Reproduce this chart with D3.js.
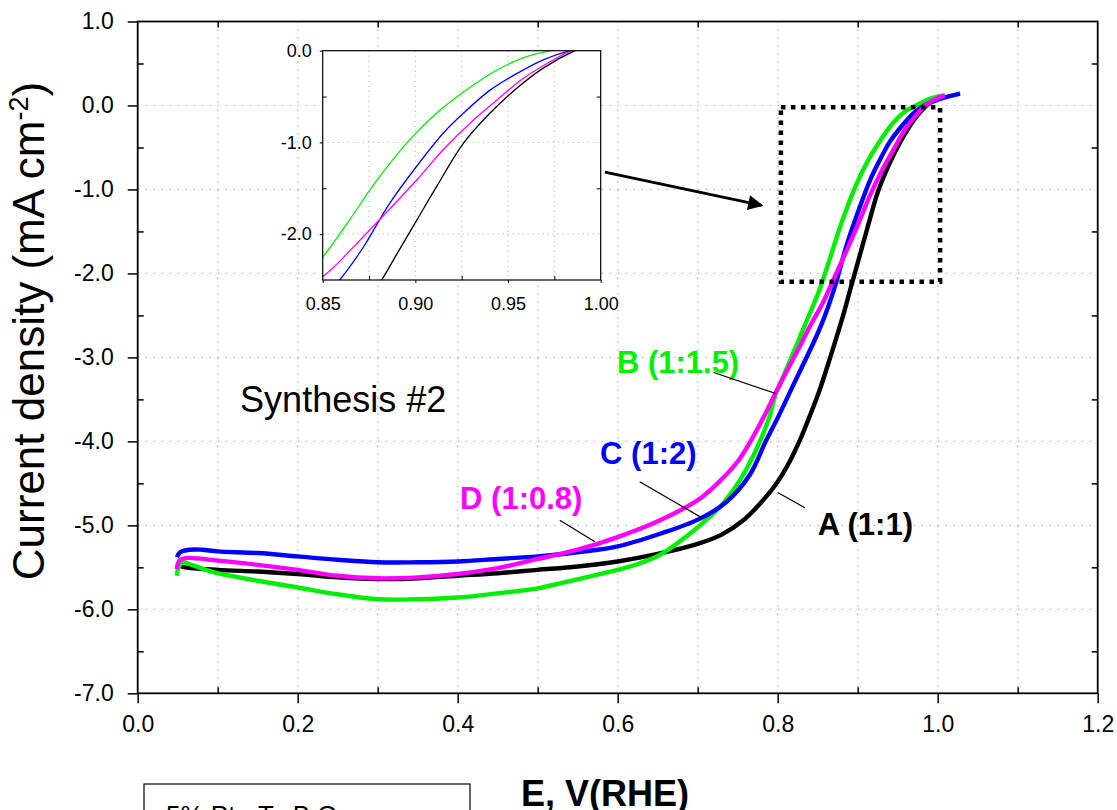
<!DOCTYPE html>
<html>
<head>
<meta charset="utf-8"/>
<title>ORR polarization curves</title>
<style>
body { margin: 0; background: #fff; }
svg { display: block; font-family: "Liberation Sans", Arial, sans-serif; }
.grid line { stroke: #b4b4b4; stroke-width: 1.2; stroke-dasharray: 1.5,6.5; }
.axis path { display: none; }
.axis line { stroke: #000; stroke-width: 1.5; }
.axis text { font-size: 23px; fill: #000; }
.inset .axis text { font-size: 18px; }
.inset .axis line { stroke-width: 1; }
</style>
</head>
<body>
<svg width="1117" height="810"></svg>
<script src="https://d3js.org/d3.v7.min.js"></script>
<script>

// E (V vs RHE), current density (mA cm-2)
var seriesA = [[0.049,-5.45],[0.055,-5.49],[0.1,-5.53],[0.15,-5.55],[0.2,-5.58],[0.25,-5.62],[0.3,-5.64],[0.35,-5.63],
  [0.4,-5.60],[0.45,-5.57],[0.5,-5.53],[0.55,-5.49],[0.6,-5.43],[0.65,-5.34],[0.7,-5.22],[0.73,-5.11],[0.757,-4.94],
  [0.78,-4.72],[0.8,-4.48],[0.815,-4.24],[0.828,-3.98],[0.84,-3.70],[0.852,-3.40],[0.865,-3.02],[0.8818,-2.5],
  [0.8899,-2.22],[0.9007,-1.85],[0.9115,-1.48],[0.9259,-1.01],[0.9403,-0.68],[0.9547,-0.41],[0.969,-0.19],[0.9861,0.0],
  [0.997,0.08],[1.005,0.1]];
var seriesB = [[0.049,-5.60],[0.051,-5.50],[0.056,-5.44],[0.07,-5.48],[0.1,-5.57],[0.15,-5.66],[0.2,-5.74],[0.25,-5.82],
  [0.3,-5.88],[0.35,-5.88],[0.4,-5.86],[0.45,-5.81],[0.5,-5.75],[0.528,-5.69],[0.56,-5.62],[0.6,-5.53],[0.625,-5.46],
  [0.653,-5.35],[0.694,-5.07],[0.728,-4.78],[0.753,-4.46],[0.768,-4.2],[0.78,-3.95],[0.79,-3.70],[0.797,-3.45],[0.81,-3.16],
  [0.825,-2.82],[0.84,-2.48],[0.852,-2.2],[0.865,-1.83],[0.879,-1.42],[0.897,-0.97],[0.9115,-0.68],
  [0.926,-0.45],[0.944,-0.21],[0.96,-0.065],[0.973,0.0],[0.99,0.08],[1.009,0.12]];
var seriesC = [[0.049,-5.38],[0.053,-5.32],[0.065,-5.29],[0.08,-5.29],[0.1,-5.31],[0.15,-5.33],[0.2,-5.37],[0.25,-5.41],
  [0.3,-5.44],[0.35,-5.44],[0.4,-5.43],[0.45,-5.40],[0.5,-5.37],[0.55,-5.32],[0.6,-5.25],[0.653,-5.10],[0.703,-4.92],
  [0.736,-4.72],[0.765,-4.40],[0.785,-4.0],[0.8,-3.72],[0.815,-3.42],[0.83,-3.12],[0.845,-2.82],[0.855,-2.6],
  [0.863,-2.40],[0.872,-2.14],[0.8863,-1.66],[0.9007,-1.26],[0.915,-0.90],[0.926,-0.68],[0.9403,-0.43],[0.9547,-0.25],
  [0.969,-0.10],[0.9834,0.0],[1.0,0.07],[1.015,0.11],[1.028,0.14]];
var seriesD = [[0.049,-5.52],[0.052,-5.42],[0.06,-5.39],[0.1,-5.42],[0.15,-5.47],[0.2,-5.53],[0.25,-5.60],[0.3,-5.63],
  [0.35,-5.62],[0.4,-5.58],[0.45,-5.51],[0.5,-5.40],[0.55,-5.29],[0.6,-5.14],[0.653,-4.94],[0.703,-4.68],[0.728,-4.47],
  [0.75,-4.24],[0.766,-4.0],[0.782,-3.72],[0.797,-3.43],[0.812,-3.15],[0.827,-2.88],[0.842,-2.6],[0.8549,-2.38],[0.8647,-2.18],
  [0.8827,-1.80],[0.9007,-1.41],[0.915,-1.08],[0.9295,-0.79],[0.9439,-0.54],[0.9583,-0.30],[0.9727,-0.12],
  [0.9843,0.0],[0.996,0.07],[1.009,0.12]];

var seriesNames = ["A (1:1)", "B (1:1.5)", "C (1:2)", "D (1:0.8)"];
var seriesColors = ["#000000", "#00ee00", "#0000ff", "#ff00ff"];
var seriesData = [seriesA, seriesB, seriesC, seriesD];
var drawOrder = [0, 1, 2, 3];

var xMajor = [0, 0.2, 0.4, 0.6, 0.8, 1.0, 1.2];
var xMinor = [0.1, 0.3, 0.5, 0.7, 0.9, 1.1];
var yMajor = [1, 0, -1, -2, -3, -4, -5, -6, -7];
var yMinor = [0.5, -0.5, -1.5, -2.5, -3.5, -4.5, -5.5, -6.5];

var insetXMajor = [0.85, 0.90, 0.95, 1.00];
var insetXMinor = [0.875, 0.925, 0.975];
var insetYMajor = [0, -1, -2];
var insetYMinor = [-0.5, -1.5];

// label anchor positions and leader line ends, in data units
var labelPos = [[0.85, -5.12], [0.599, -3.19], [0.578, -4.27], [0.403, -4.81]];
var leaders = [[[0.80, -4.61], [0.834, -4.79]], [[0.72, -3.18], [0.7975, -3.43]],
  [[0.6275, -4.48], [0.707, -4.92]], [[0.5276, -4.94], [0.5716, -5.195]]];
var zoomBox = [0.804, -0.02, 1.003, -2.10];
var arrowEnds = [[0.584, -0.794], [0.78, -1.19]];

var svg = d3.select("svg");
var fmt = function(d) { return d.toFixed(1); };

var x = d3.scaleLinear().domain([0, 1.2]).range([137.7, 1097.7]);
var y = d3.scaleLinear().domain([-7, 1]).range([693.3, 21.5]);

// grid
var grid = svg.append("g").attr("class", "grid");
grid.selectAll(".gx").data(xMajor.concat(xMinor).filter(function(d) { return d > 0 && d < 1.2; }))
  .enter().append("line")
    .attr("x1", function(d) { return x(d); }).attr("x2", function(d) { return x(d); })
    .attr("y1", y(1)).attr("y2", y(-7));
grid.selectAll(".gy").data(yMajor.filter(function(d) { return d > -7 && d < 1; }))
  .enter().append("line")
    .attr("y1", function(d) { return y(d); }).attr("y2", function(d) { return y(d); })
    .attr("x1", x(0)).attr("x2", x(1.2));

// curves
var line = d3.line()
  .x(function(d) { return x(d[0]); })
  .y(function(d) { return y(d[1]); })
  .curve(d3.curveCatmullRom.alpha(0.5));

svg.append("g").selectAll("path").data(drawOrder).enter().append("path")
  .attr("d", function(i) { return line(seriesData[i]); })
  .attr("fill", "none")
  .attr("stroke", function(i) { return seriesColors[i]; })
  .attr("stroke-width", 4.4)
  .attr("stroke-linejoin", "round");

// frame
svg.append("rect")
  .attr("x", x(0)).attr("y", y(1))
  .attr("width", x(1.2) - x(0)).attr("height", y(-7) - y(1))
  .attr("fill", "none").attr("stroke", "#000").attr("stroke-width", 1.8);

// axes
svg.append("g").attr("class", "axis").attr("transform", "translate(0," + y(-7) + ")")
  .call(d3.axisBottom(x).tickValues(xMajor).tickSize(10).tickPadding(12).tickFormat(fmt));
svg.append("g").attr("class", "axis").attr("transform", "translate(0," + y(-7) + ")")
  .call(d3.axisBottom(x).tickValues(xMinor).tickSize(-6).tickFormat(""));
svg.append("g").attr("class", "axis").attr("transform", "translate(" + x(0) + ",0)")
  .call(d3.axisLeft(y).tickValues(yMajor).tickSize(10).tickPadding(14).tickFormat(fmt));
svg.append("g").attr("class", "axis").attr("transform", "translate(" + x(0) + ",0)")
  .call(d3.axisLeft(y).tickValues(yMinor).tickSize(-6).tickFormat(""));
svg.append("g").attr("class", "axis").attr("transform", "translate(" + x(1.2) + ",0)")
  .call(d3.axisRight(y).tickValues(yMinor).tickSize(-6).tickFormat(""));
svg.append("g").attr("class", "axis").attr("transform", "translate(0," + y(1) + ")")
  .call(d3.axisTop(x).tickValues(xMinor).tickSize(-6).tickFormat(""));

// axis titles
var yt = svg.append("text")
  .attr("transform", "translate(44,331) rotate(-90)")
  .attr("text-anchor", "middle")
  .style("font-size", "44px");
yt.append("tspan").text("Current density (mA cm");
yt.append("tspan").attr("dy", -16).style("font-size", "27px").text("-2");
yt.append("tspan").attr("dy", 16).text(")");

svg.append("text")
  .attr("x", 605).attr("y", 806)
  .attr("text-anchor", "middle")
  .style("font-size", "36px").style("font-weight", "bold")
  .text("E, V(RHE)");

// partially visible legend box at the bottom
svg.append("rect").attr("x", 144).attr("y", 784).attr("width", 326).attr("height", 60)
  .attr("fill", "none").attr("stroke", "#000").attr("stroke-width", 1.2);
svg.append("text").attr("x", 166).attr("y", 824).style("font-size", "26px").text("5% Pt - Ta B O");

// annotations
svg.append("text")
  .attr("x", x(0.128)).attr("y", y(-3.65))
  .style("font-size", "36px")
  .text("Synthesis #2");

svg.append("g").selectAll("text").data(drawOrder).enter().append("text")
  .attr("x", function(i) { return x(labelPos[i][0]); })
  .attr("y", function(i) { return y(labelPos[i][1]); })
  .attr("fill", function(i) { return seriesColors[i]; })
  .style("font-size", "31px").style("font-weight", "bold")
  .text(function(i) { return seriesNames[i]; });

svg.append("g").selectAll("line").data(leaders).enter().append("line")
  .attr("x1", function(d) { return x(d[0][0]); }).attr("y1", function(d) { return y(d[0][1]); })
  .attr("x2", function(d) { return x(d[1][0]); }).attr("y2", function(d) { return y(d[1][1]); })
  .attr("stroke", "#000").attr("stroke-width", 1.2);

svg.append("rect")
  .attr("x", x(zoomBox[0])).attr("y", y(zoomBox[1]))
  .attr("width", x(zoomBox[2]) - x(zoomBox[0])).attr("height", y(zoomBox[3]) - y(zoomBox[1]))
  .attr("fill", "none").attr("stroke", "#000").attr("stroke-width", 4.5)
  .attr("stroke-dasharray", "4.5,5.5");

svg.append("defs").append("marker")
  .attr("id", "head").attr("viewBox", "0 0 10 10").attr("refX", 9).attr("refY", 5)
  .attr("markerWidth", 6).attr("markerHeight", 5).attr("orient", "auto")
  .attr("markerUnits", "strokeWidth")
  .append("path").attr("d", "M0,0L10,5L0,10z").attr("fill", "#000");

svg.append("line")
  .attr("x1", x(arrowEnds[0][0])).attr("y1", y(arrowEnds[0][1]))
  .attr("x2", x(arrowEnds[1][0])).attr("y2", y(arrowEnds[1][1]))
  .attr("stroke", "#000").attr("stroke-width", 3)
  .attr("marker-end", "url(#head)");

// inset
var ix = d3.scaleLinear().domain([0.85, 1.0]).range([322.7, 600.7]);
var iy = d3.scaleLinear().domain([-2.5, 0]).range([280, 50.7]);
var inset = svg.append("g").attr("class", "inset");

inset.append("rect").attr("x", ix(0.85)).attr("y", iy(0))
  .attr("width", ix(1) - ix(0.85)).attr("height", iy(-2.5) - iy(0)).attr("fill", "#fff");

svg.select("defs").append("clipPath").attr("id", "insetClip")
  .append("rect").attr("x", ix(0.85)).attr("y", iy(0))
  .attr("width", ix(1) - ix(0.85)).attr("height", iy(-2.5) - iy(0));

var ig = inset.append("g").attr("class", "grid");
ig.selectAll(".gx").data(insetXMajor.concat(insetXMinor).filter(function(d) { return d > 0.85 && d < 1.0; }))
  .enter().append("line")
    .attr("x1", function(d) { return ix(d); }).attr("x2", function(d) { return ix(d); })
    .attr("y1", iy(0)).attr("y2", iy(-2.5))
    .style("stroke-dasharray", "1,4");
ig.selectAll(".gy").data(insetYMajor.filter(function(d) { return d < 0; }))
  .enter().append("line")
    .attr("y1", function(d) { return iy(d); }).attr("y2", function(d) { return iy(d); })
    .attr("x1", ix(0.85)).attr("x2", ix(1.0))
    .style("stroke-dasharray", "1,4");

var iline = d3.line()
  .x(function(d) { return ix(d[0]); })
  .y(function(d) { return iy(d[1]); })
  .curve(d3.curveCatmullRom.alpha(0.5));

inset.append("g").attr("clip-path", "url(#insetClip)")
  .selectAll("path").data(drawOrder).enter().append("path")
  .attr("d", function(i) { return iline(seriesData[i]); })
  .attr("fill", "none")
  .attr("stroke", function(i) { return seriesColors[i]; })
  .attr("stroke-width", 1.3);

inset.append("rect").attr("x", ix(0.85)).attr("y", iy(0))
  .attr("width", ix(1) - ix(0.85)).attr("height", iy(-2.5) - iy(0))
  .attr("fill", "none").attr("stroke", "#000").attr("stroke-width", 1.2);

inset.append("g").attr("class", "axis").attr("transform", "translate(0," + iy(-2.5) + ")")
  .call(d3.axisBottom(ix).tickValues(insetXMajor).tickSize(3).tickPadding(14).tickFormat(function(d) { return d.toFixed(2); }));
inset.append("g").attr("class", "axis").attr("transform", "translate(0," + iy(-2.5) + ")")
  .call(d3.axisBottom(ix).tickValues(insetXMinor).tickSize(-4).tickFormat(""));
inset.append("g").attr("class", "axis").attr("transform", "translate(" + ix(0.85) + ",0)")
  .call(d3.axisLeft(iy).tickValues(insetYMajor).tickSize(3).tickPadding(8).tickFormat(fmt));
inset.append("g").attr("class", "axis").attr("transform", "translate(" + ix(0.85) + ",0)")
  .call(d3.axisLeft(iy).tickValues(insetYMinor).tickSize(-4).tickFormat(""));
inset.append("g").attr("class", "axis").attr("transform", "translate(" + ix(1.0) + ",0)")
  .call(d3.axisRight(iy).tickValues(insetYMinor).tickSize(-4).tickFormat(""));

</script>
</body>
</html>
